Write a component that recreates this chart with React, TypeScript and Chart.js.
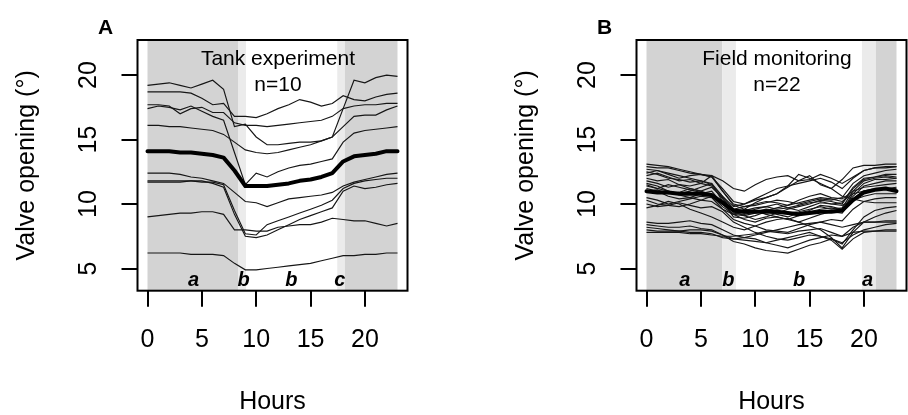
import React, { useEffect, useRef } from "react";
import { Chart, registerables } from "chart.js";

Chart.register(...registerables);

// ---------- data ----------
const HOURS = [0, 1, 2, 3, 4, 5, 6, 7, 8, 9, 10, 11, 12, 13, 14, 15, 16, 17, 18, 19, 20, 21, 22, 23];
const X_TICKS = [0, 5, 10, 15, 20];
const Y_TICKS = [5, 10, 15, 20];
const X_RANGE = [-0.92, 23.92];
const Y_RANGE = [3.28, 22.72];

const TANK_MEAN = [14.1, 14.1, 14.1, 14.0, 14.0, 13.9, 13.8, 13.6, 12.6, 11.4, 11.4, 11.4, 11.5, 11.6, 11.8, 11.9, 12.1, 12.4, 13.3, 13.7, 13.8, 13.9, 14.1, 14.1];
const TANK_1 = [19.2, 19.3, 19.4, 19.2, 19.0, 19.3, 19.6, 18.9, 16.0, 16.2, 15.2, 14.6, 14.6, 14.7, 14.8, 14.8, 14.9, 15.2, 17.4, 19.6, 19.4, 19.8, 20.0, 19.9];
const TANK_2 = [18.7, 18.7, 18.7, 18.7, 18.6, 18.2, 17.7, 17.8, 16.8, 16.8, 16.7, 17.0, 17.4, 17.7, 18.1, 17.9, 17.6, 17.8, 18.4, 18.1, 18.0, 18.3, 18.5, 18.6];
const TANK_3 = [17.7, 17.7, 17.6, 17.0, 17.4, 17.5, 17.1, 17.1, 16.3, 16.1, 16.1, 16.0, 16.1, 16.2, 16.3, 16.4, 16.5, 16.8, 17.4, 17.6, 17.7, 17.7, 17.8, 17.8];
const TANK_4 = [17.4, 17.6, 17.5, 17.3, 17.6, 17.2, 16.8, 16.5, 14.0, 11.5, 12.4, 12.1, 12.5, 12.8, 13.0, 13.1, 13.3, 13.5, 14.8, 15.5, 15.7, 15.8, 15.9, 16.0];
const TANK_5 = [16.1, 16.1, 16.0, 16.0, 15.9, 15.8, 15.7, 15.4, 14.8, 14.2, 14.0, 13.9, 14.0, 14.2, 14.4, 14.6, 14.9, 15.2, 16.0, 16.8, 16.9, 16.9, 17.3, 17.6];
const TANK_6 = [12.4, 12.4, 12.4, 12.3, 12.1, 12.0, 11.8, 11.6, 10.9, 10.2, 10.1, 9.8, 10.1, 10.4, 10.5, 10.6, 10.7, 10.9, 11.4, 11.7, 11.9, 12.1, 12.3, 12.4];
const TANK_7 = [11.8, 11.8, 11.8, 11.8, 11.8, 11.7, 11.7, 11.5, 9.5, 7.7, 7.6, 8.4, 8.7, 9.0, 9.3, 9.6, 9.9, 10.3, 11.2, 11.6, 11.8, 11.9, 12.0, 12.0];
const TANK_8 = [11.7, 11.7, 11.7, 11.7, 11.8, 11.8, 11.6, 11.3, 9.2, 7.5, 7.4, 7.6, 8.0, 8.4, 8.8, 9.1, 9.4, 9.7, 11.0, 11.4, 11.2, 11.3, 11.5, 11.6];
const TANK_9 = [9.0, 9.1, 9.2, 9.3, 9.3, 9.4, 9.4, 9.2, 8.0, 8.0, 7.9, 7.9, 8.2, 8.3, 8.4, 8.4, 8.6, 8.9, 8.8, 8.7, 8.7, 8.5, 8.3, 8.5];
const TANK_10 = [6.2, 6.2, 6.2, 6.2, 6.1, 6.1, 6.1, 6.0, 5.4, 4.9, 4.9, 5.0, 5.1, 5.2, 5.3, 5.4, 5.6, 5.8, 6.0, 6.0, 6.1, 6.1, 6.2, 6.2];

const FIELD_MEAN = [11.0, 10.9, 10.9, 10.8, 10.8, 10.8, 10.7, 10.1, 9.5, 9.4, 9.4, 9.4, 9.4, 9.3, 9.2, 9.3, 9.4, 9.4, 9.5, 10.3, 10.9, 11.1, 11.2, 11.0];
const FIELD_1 = [13.1, 13.0, 12.9, 12.7, 12.5, 12.3, 12.1, 11.2, 10.2, 10.0, 10.3, 10.5, 10.8, 11.3, 11.8, 12.2, 11.5, 11.2, 11.9, 12.8, 13.0, 13.0, 13.1, 13.1];
const FIELD_2 = [12.9, 12.8, 12.8, 12.6, 12.4, 12.3, 12.2, 11.8, 11.2, 11.0, 11.5, 11.9, 12.1, 12.2, 11.8, 11.9, 12.3, 12.0, 11.6, 12.1, 12.6, 12.8, 12.9, 12.9];
const FIELD_3 = [12.7, 12.6, 12.3, 12.0, 12.2, 12.3, 12.1, 11.0, 10.0, 9.8, 9.9, 10.1, 10.3, 10.2, 10.0, 10.2, 10.4, 10.3, 10.5, 11.6, 12.2, 12.4, 12.6, 12.7];
const FIELD_4 = [12.5, 12.3, 12.0, 11.9, 11.7, 11.8, 11.6, 10.6, 9.6, 9.5, 9.7, 9.8, 9.6, 9.7, 9.9, 10.1, 10.2, 10.0, 10.1, 11.3, 12.0, 12.1, 12.3, 12.3];
const FIELD_5 = [12.2, 12.4, 12.1, 11.8, 11.9, 11.6, 11.4, 10.4, 9.3, 9.2, 9.4, 9.6, 9.5, 9.3, 9.4, 9.6, 9.8, 9.6, 9.7, 11.0, 11.8, 12.0, 12.1, 12.0];
const FIELD_6 = [12.0, 11.8, 11.9, 11.5, 11.4, 11.6, 12.2, 11.0, 9.9, 9.6, 9.5, 9.2, 9.0, 8.8, 9.1, 9.4, 9.6, 9.7, 9.5, 10.8, 11.6, 11.9, 11.9, 12.0];
const FIELD_7 = [11.8, 11.6, 11.3, 11.5, 11.2, 11.0, 11.3, 10.5, 9.4, 9.1, 8.8, 9.0, 9.3, 9.6, 9.8, 10.0, 10.3, 10.2, 10.0, 11.2, 11.9, 12.1, 12.2, 12.1];
const FIELD_8 = [11.6, 11.4, 11.0, 10.8, 11.0, 11.3, 11.6, 10.2, 9.0, 8.9, 9.1, 9.4, 9.2, 9.0, 9.3, 9.5, 9.9, 9.8, 9.6, 10.6, 11.4, 11.6, 11.8, 11.8];
const FIELD_9 = [11.5, 11.2, 11.5, 11.3, 11.1, 10.9, 10.8, 10.0, 9.6, 9.8, 10.0, 10.2, 10.1, 9.9, 10.3, 10.6, 10.8, 10.5, 10.4, 11.0, 11.3, 11.4, 11.5, 11.6];
const FIELD_10 = [11.2, 11.0, 10.6, 10.4, 10.5, 10.8, 11.0, 10.0, 9.2, 8.8, 8.6, 8.9, 9.0, 8.8, 8.6, 8.9, 9.2, 9.4, 9.3, 10.4, 11.0, 11.2, 11.2, 11.2];
const FIELD_11 = [11.0, 11.1, 10.8, 10.9, 11.2, 11.0, 10.7, 10.1, 9.5, 9.3, 9.6, 9.8, 10.0, 9.7, 9.5, 9.8, 10.1, 10.0, 9.9, 10.3, 10.6, 10.8, 10.8, 10.8];
const FIELD_12 = [10.5, 10.3, 10.0, 10.2, 10.4, 10.6, 10.5, 9.6, 8.8, 8.5, 8.3, 8.0, 7.9, 7.8, 8.1, 8.4, 8.6, 8.8, 8.7, 9.6, 10.2, 10.4, 10.5, 10.5];
const FIELD_13 = [10.3, 10.0, 9.9, 9.8, 10.0, 10.3, 10.6, 9.8, 9.2, 9.6, 10.1, 10.5, 10.8, 11.4, 12.3, 12.0, 11.6, 11.2, 10.6, 10.4, 10.2, 10.1, 10.1, 10.1];
const FIELD_14 = [10.0, 9.8, 9.9, 10.1, 9.9, 9.7, 9.8, 9.4, 8.6, 8.2, 7.8, 7.5, 7.3, 7.2, 7.4, 7.6, 7.5, 7.3, 6.9, 8.0, 9.0, 9.5, 9.7, 9.8];
const FIELD_15 = [9.7, 9.9, 10.2, 10.0, 9.6, 9.3, 9.0, 8.6, 8.2, 8.0, 8.3, 8.6, 8.8, 8.9, 8.6, 8.3, 8.0, 7.4, 6.6, 7.8, 8.6, 9.0, 9.3, 9.5];
const FIELD_16 = [8.6, 8.5, 8.5, 8.6, 8.7, 8.5, 8.4, 8.0, 7.6, 7.4, 7.3, 7.0, 6.8, 6.6, 6.9, 7.2, 7.4, 7.6, 7.5, 8.2, 8.6, 8.6, 8.7, 8.7];
const FIELD_17 = [8.4, 8.3, 8.2, 8.2, 8.3, 8.1, 8.0, 7.6, 7.1, 6.9, 6.6, 6.4, 6.3, 6.2, 6.5, 6.8, 7.0, 7.3, 7.0, 7.6, 8.0, 8.2, 8.4, 8.5];
const FIELD_18 = [8.2, 8.1, 8.0, 7.9, 8.0, 8.0, 7.9, 7.6, 7.3, 7.2, 7.1, 7.0, 7.2, 7.4, 7.6, 7.8, 7.5, 7.2, 6.5, 7.3, 7.8, 7.9, 8.0, 8.0];
const FIELD_19 = [8.0, 7.9, 7.9, 7.9, 7.8, 7.8, 7.7, 7.4, 7.3, 7.4, 7.6, 7.8, 8.0, 8.2, 8.4, 8.5, 8.6, 8.4, 8.2, 8.4, 8.6, 8.6, 8.6, 8.6];
const FIELD_20 = [7.8, 7.8, 7.8, 7.8, 7.7, 7.7, 7.6, 7.5, 7.5, 7.6, 7.7, 7.9, 7.8, 7.7, 7.9, 8.0, 8.1, 7.8, 7.5, 7.8, 7.9, 7.9, 7.9, 7.9];
const FIELD_21 = [12.4, 12.6, 12.4, 12.2, 12.0, 11.8, 11.5, 10.6, 9.8, 10.0, 10.4, 10.8, 11.2, 11.4, 11.6, 11.8, 12.0, 11.7, 11.2, 12.0, 12.6, 12.8, 12.8, 12.9];
const FIELD_22 = [11.4, 11.2, 11.0, 10.7, 10.5, 10.3, 10.2, 9.6, 9.2, 9.1, 9.3, 9.5, 9.7, 9.9, 10.1, 10.3, 10.5, 10.4, 10.2, 10.8, 11.0, 11.1, 11.2, 11.3];

const TANK_LINES = [TANK_1, TANK_2, TANK_3, TANK_4, TANK_5, TANK_6, TANK_7, TANK_8, TANK_9, TANK_10];
const FIELD_LINES = [FIELD_1, FIELD_2, FIELD_3, FIELD_4, FIELD_5, FIELD_6, FIELD_7, FIELD_8, FIELD_9, FIELD_10, FIELD_11,
  FIELD_12, FIELD_13, FIELD_14, FIELD_15, FIELD_16, FIELD_17, FIELD_18, FIELD_19, FIELD_20, FIELD_21, FIELD_22];

// light phases (hours): dark | dawn | light | dusk | dark
const TANK_BAND_EDGES = [0, 8.33, 9.07, 17.46, 18.16, 23];
const FIELD_BAND_EDGES = [0, 6.97, 8.23, 19.82, 21.1, 23];

const TANK_LETTERS = ["a", "b", "b", "c"];
const TANK_LETTER_HOURS = [4.24, 8.85, 13.24, 17.7];
const FIELD_LETTERS = ["a", "b", "b", "a"];
const FIELD_LETTER_HOURS = [3.53, 7.52, 14.04, 20.33];
const LETTER_VALUE = 3.66;

const TANK_TITLE = ["Tank experiment", "n=10"];
const FIELD_TITLE = ["Field monitoring", "n=22"];
const TITLE_HOUR = 12;
const TITLE_VALUES = [20.78, 18.8];

// ---------- styles ----------
const FONT = "'Liberation Sans', Arial, Helvetica, sans-serif";
const BAND_COLORS = ["#d3d3d3", "#ebebeb", "#ffffff", "#ebebeb", "#d3d3d3"];
const H = 415;
const Y_AXIS_W = 137.5;
const BOX_W = 270;
const BOX_TOP = 40;
const X_AXIS_H = 124.3;

type PanelProps = {
  left: number;
  width: number;
  lines: number[][];
  mean: number[];
  bandEdges: number[];
  letters: string[];
  letterHours: number[];
  title: string[];
  panelLabel: string;
};

function Panel(p: PanelProps) {
  const ref = useRef<HTMLCanvasElement | null>(null);

  useEffect(() => {
    const canvas = ref.current;
    if (!canvas) return;

    const toPts = (vals: number[]) => vals.map((v, i) => ({ x: HOURS[i], y: v }));

    const datasets: any[] = [
      {
        data: toPts(p.mean),
        borderColor: "#000000",
        borderWidth: 4,
        pointRadius: 0,
        tension: 0,
        borderJoinStyle: "round",
        borderCapStyle: "round",
      },
      ...p.lines.map((l) => ({
        data: toPts(l),
        borderColor: "#161616",
        borderWidth: 1.15,
        pointRadius: 0,
        tension: 0,
      })),
    ];

    const decor = {
      id: "decor",
      beforeDatasetsDraw(chart: any) {
        const { ctx, chartArea, scales } = chart;
        const xs = scales.x;
        ctx.save();
        for (let i = 0; i < p.bandEdges.length - 1; i++) {
          const x0 = xs.getPixelForValue(p.bandEdges[i]);
          const x1 = xs.getPixelForValue(p.bandEdges[i + 1]);
          ctx.fillStyle = BAND_COLORS[i];
          ctx.fillRect(x0, chartArea.top, x1 - x0, chartArea.bottom - chartArea.top);
        }
        ctx.restore();
      },
      afterDatasetsDraw(chart: any) {
        const { ctx, chartArea, scales } = chart;
        const xs = scales.x;
        const ys = scales.y;
        ctx.save();
        ctx.fillStyle = "#000";
        ctx.textAlign = "center";
        ctx.textBaseline = "alphabetic";
        // letters
        ctx.font = `italic bold 20px ${FONT}`;
        p.letters.forEach((t, i) => {
          ctx.fillText(t, xs.getPixelForValue(p.letterHours[i]), ys.getPixelForValue(LETTER_VALUE));
        });
        // title
        ctx.font = `21px ${FONT}`;
        p.title.forEach((t, i) => {
          ctx.fillText(t, xs.getPixelForValue(TITLE_HOUR), ys.getPixelForValue(TITLE_VALUES[i]));
        });
        // box
        ctx.strokeStyle = "#000";
        ctx.lineWidth = 2;
        ctx.strokeRect(chartArea.left, chartArea.top, chartArea.right - chartArea.left, chartArea.bottom - chartArea.top);
        // panel label
        ctx.font = `bold 21px ${FONT}`;
        ctx.fillText(p.panelLabel, chartArea.left - 32, chartArea.top - 6.5);
        ctx.restore();
      },
    };

    const chart = new Chart(canvas, {
      type: "line",
      data: { datasets },
      options: {
        responsive: false,
        animation: false,
        events: [],
        layout: {
          padding: { top: BOX_TOP, left: 0, bottom: 0, right: p.width - Y_AXIS_W - BOX_W },
        },
        plugins: { legend: { display: false }, tooltip: { enabled: false }, title: { display: false } },
        scales: {
          x: {
            type: "linear",
            min: X_RANGE[0],
            max: X_RANGE[1],
            afterBuildTicks: (s: any) => {
              s.ticks = X_TICKS.map((v) => ({ value: v }));
            },
            afterFit: (s: any) => {
              s.height = X_AXIS_H;
            },
            grid: { drawOnChartArea: false, drawTicks: true, tickLength: 16, color: "#000", lineWidth: 2 },
            border: { display: false },
            ticks: {
              autoSkip: false,
              maxRotation: 0,
              minRotation: 0,
              padding: 18,
              color: "#000",
              font: { family: FONT, size: 25 },
            },
            title: {
              display: true,
              text: "Hours",
              color: "#000",
              font: { family: FONT, size: 25, lineHeight: 1 },
              padding: { top: 0, bottom: 0 },
            },
          },
          y: {
            type: "linear",
            min: Y_RANGE[0],
            max: Y_RANGE[1],
            afterBuildTicks: (s: any) => {
              s.ticks = Y_TICKS.map((v) => ({ value: v }));
            },
            afterFit: (s: any) => {
              s.width = Y_AXIS_W;
            },
            grid: { drawOnChartArea: false, drawTicks: true, tickLength: 16, color: "#000", lineWidth: 2 },
            border: { display: false },
            ticks: {
              autoSkip: false,
              minRotation: 90,
              maxRotation: 90,
              crossAlign: "center",
              padding: 18,
              color: "#000",
              font: { family: FONT, size: 25 },
            },
            title: {
              display: true,
              text: "Valve opening (°)",
              color: "#000",
              font: { family: FONT, size: 25, lineHeight: 1 },
              padding: { top: 15, bottom: 0 },
            },
          },
        },
      } as any,
      plugins: [decor],
    });

    return () => chart.destroy();
  }, []);

  return (
    <canvas
      ref={ref}
      width={p.width}
      height={H}
      style={{ position: "absolute", left: p.left, top: 0, width: p.width, height: H }}
    />
  );
}

export default function App() {
  return (
    <div style={{ position: "absolute", left: 0, top: 0, width: 908, height: H, background: "#fff" }}>
      <Panel
        left={0}
        width={499}
        lines={TANK_LINES}
        mean={TANK_MEAN}
        bandEdges={TANK_BAND_EDGES}
        letters={TANK_LETTERS}
        letterHours={TANK_LETTER_HOURS}
        title={TANK_TITLE}
        panelLabel="A"
      />
      <Panel
        left={499}
        width={409}
        lines={FIELD_LINES}
        mean={FIELD_MEAN}
        bandEdges={FIELD_BAND_EDGES}
        letters={FIELD_LETTERS}
        letterHours={FIELD_LETTER_HOURS}
        title={FIELD_TITLE}
        panelLabel="B"
      />
    </div>
  );
}
